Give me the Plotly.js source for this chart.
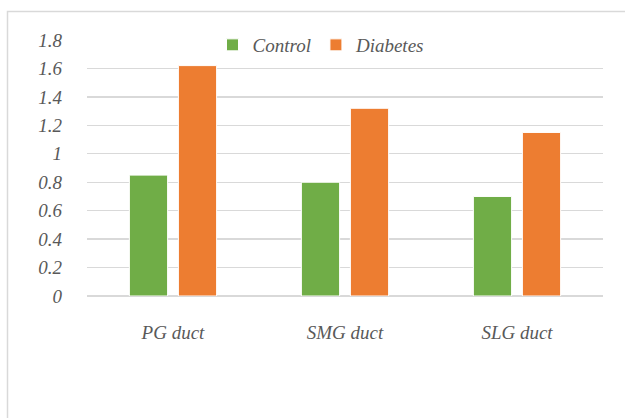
<!DOCTYPE html>
<html>
<head>
<meta charset="utf-8">
<script src="https://cdn.plot.ly/plotly-3.0.1.min.js"></script>
<style>html,body{margin:0;padding:0;background:#fff;}#chart{width:625px;height:418px;}</style>
</head>
<body>
<div id="chart"></div>
<script>
const categories = ["PG duct", "SMG duct", "SLG duct"];
const controlValues = [0.85, 0.80, 0.70];
const diabetesValues = [1.62, 1.32, 1.15];
const yTickValues = [0, 0.2, 0.4, 0.6, 0.8, 1, 1.2, 1.4, 1.6, 1.8];
const yTickLabels = ["0", "0.2", "0.4", "0.6", "0.8", "1", "1.2", "1.4", "1.6", "1.8"];

const fontFam = "Liberation Serif";
const textColor = "#595959";

const traces = [
  {type: "bar", name: "Control", x: categories, y: controlValues,
   marker: {color: "#70ad47", line: {color: "#ffffff", width: 1}}},
  {type: "bar", name: "Diabetes", x: categories, y: diabetesValues,
   marker: {color: "#ed7d31", line: {color: "#ffffff", width: 1}}}
];

const W = 625, H = 418, ml = 87, mr = 22, mt = 40, mb = 122;
const pw = W - ml - mr, ph = H - mt - mb;
const px = v => (v - ml) / pw;
const py = v => (H - mb - v) / ph;

const layout = {
  width: W, height: H,
  margin: {l: ml, r: mr, t: mt, b: mb, pad: 0},
  paper_bgcolor: "#ffffff", plot_bgcolor: "#ffffff",
  font: {family: fontFam, color: textColor, size: 18, style: "italic"},
  barmode: "group", bargap: 0.43, bargroupgap: 0.22,
  showlegend: true,
  legend: {orientation: "h", x: px(321), xanchor: "center", y: py(45), yanchor: "middle",
           bgcolor: "rgba(0,0,0,0)", font: {family: fontFam, size: 19, color: textColor, style: "italic"},
           itemwidth: 30, traceorder: "normal"},
  xaxis: {showgrid: false, showline: false, zeroline: false, ticks: "",
          tickfont: {family: fontFam, size: 19, color: textColor, style: "italic"},
          ticklabelstandoff: 23},
  yaxis: {range: [0, 1.8], tickvals: yTickValues, ticktext: yTickLabels,
          showgrid: true, gridcolor: "#d9d9d9", gridwidth: 1.3,
          zeroline: true, zerolinecolor: "#d9d9d9", zerolinewidth: 1.5,
          showline: false, ticks: "",
          tickfont: {family: fontFam, size: 19, color: textColor, style: "italic"},
          ticklabelstandoff: 24},
  shapes: [{type: "rect", xref: "paper", yref: "paper",
            x0: px(7.5), x1: px(640), y0: py(430), y1: py(11.5),
            line: {color: "#d9d9d9", width: 1.5}, fillcolor: "rgba(0,0,0,0)", layer: "below"}]
};

Plotly.newPlot("chart", traces, layout, {displayModeBar: false, staticPlot: true});
</script>
</body>
</html>
